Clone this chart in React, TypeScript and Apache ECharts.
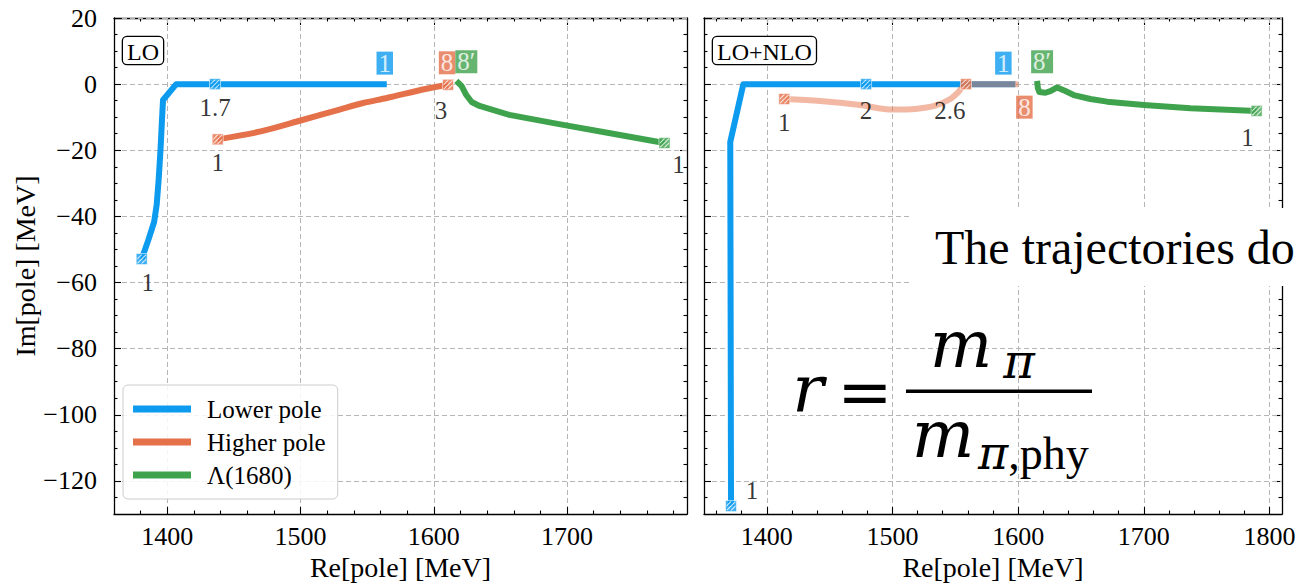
import React, { useEffect, useRef } from "react";
import * as echarts from "echarts";

const SERIF = '"Liberation Serif", "Times New Roman", Times, serif';
const MATH = '"DejaVu Serif", serif';
const BLUE = "#0c9bef";
const ORANGE = "#e5714a";
const GREEN = "#3fa34d";

// axes
const X_RANGE_LO = [1360, 1790];
const X_RANGE_NLO = [1350, 1810];
const Y_RANGE = [-130, 20];
const X_TICKS_LO = [1400, 1500, 1600, 1700];
const X_TICKS_NLO = [1400, 1500, 1600, 1700, 1800];
const Y_TICKS = [-120, -100, -80, -60, -40, -20, 0, 20];
const X_MINOR_STEP = 20;
const Y_MINOR_STEP = 5;
const SERIES_NAMES = ["Lower pole", "Higher pole", "Λ(1680)"];

// LO panel trajectories [Re, Im]
const loLower = [[1380.8, -52.9], [1385.8, -47.1], [1390.1, -41.7], [1392.0, -36.6], [1393.5, -29.0], [1394.9, -19.9], [1396.0, -10.9], [1396.8, -4.8], [1406.7, 0], [1435.8, 0], [1564.7, 0]];
const loHigher = [[1437.8, -16.7], [1470.1, -14.3], [1500, -11.0], [1529.9, -7.6], [1547, -5.7], [1564.7, -4.2], [1594.6, -1.4], [1610.7, -0.2]];
const loLambda = [[1616.9, 1.0], [1620.9, -0.6], [1624.4, -3.3], [1626.1, -4.2], [1628.4, -5.4], [1634.3, -6.6], [1656.7, -9.3], [1694, -12.1], [1731.3, -14.8], [1773.1, -17.8]];

// LO+NLO panel trajectories
const nloLower = [[1371.5, -127.6], [1371.2, -70], [1370.9, -17.5], [1381.3, 0], [1479, 0], [1597.8, 0]];
const nloHigher = [[1413.9, -4.5], [1442.4, -5.1], [1474.3, -6.3], [1499.8, -7.7], [1518.1, -7.5], [1534.0, -6.5], [1546.0, -4.5], [1552.4, -2.4], [1558.5, 0], [1600.2, 0]];
const nloLambda = [[1615.1, 1.0], [1615.7, -1.2], [1616.9, -2.4], [1621.7, -2.6], [1625.7, -2.1], [1631, -1.0], [1637.6, -2.1], [1644.2, -3.3], [1657.5, -4.5], [1670.8, -5.3], [1700, -6.3], [1737.2, -7.3], [1789.8, -8.1]];

// r-value markers: [Re, Im, r, seriesIndex]
const loMarks = [[1380.8, -52.9, "1", 0], [1435.8, 0, "1.7", 0], [1437.8, -16.7, "1", 1], [1610.7, -0.2, "3", 1], [1773.1, -17.8, "1", 2]];
const nloMarks = [[1371.5, -127.6, "1", 0], [1479, 0, "2", 0], [1413.9, -4.5, "1", 1], [1558.5, 0, "2.6", 1], [1789.8, -8.1, "1", 2]];
// badges at trajectory ends: [Re, Im, text, seriesIndex]
const loBadges = [[1564.7, 0, "1", 0], [1610.7, -0.2, "8", 1], [1616.9, 1.0, "8′", 2]];
const nloBadges = [[1597.8, 0, "1", 0], [1600.2, 0, "8", 1], [1615.1, 1.0, "8′", 2]];

// styles / layout
const COLORS = [BLUE, ORANGE, GREEN];
const GRID_LO = { left: 114, top: 18, width: 573, height: 496 };
const GRID_NLO = { left: 704, top: 18, width: 578, height: 496 };
const LO_MARK_OFFSETS = [[6, 23], [0, 23], [0, 23], [-7, 26], [14, 22]];
const NLO_MARK_OFFSETS = [[21, -16], [0, 26], [0, 23], [-16, 26], [-9, 27]];
const LO_BADGE_OFFSETS = [[-2, -21], [-1, -22], [10, -19]];
const NLO_BADGE_OFFSETS = [[-12, -21], [6, 23], [5, -19]];
const HATCH = "path://M0,9.2L9.2,0L10,0L10,0.8L0.8,10L0,10Z M0,4.2L4.2,0L5.8,0L0,5.8Z M4.2,10L10,4.2L10,5.8L5.8,10Z";

function makeAxes(dim: "x" | "y", gridIndex: number, range: number[], major: number[], step: number, withLabels: boolean, name?: string) {
  const minor: number[] = [];
  for (let v = Math.ceil(range[0] / step) * step; v <= range[1]; v += step) {
    if (!major.includes(v) && v > range[0] && v < range[1]) minor.push(v);
  }
  const pos = dim === "x" ? ["bottom", "top"] : ["left", "right"];
  const base: any = { type: "value", gridIndex, min: range[0], max: range[1], splitNumber: dim === "x" ? 5 : 7 };
  const line = { show: true, onZero: false, lineStyle: { color: "#000", width: 1.3 } };
  const noLine = { show: false, onZero: false };
  const tickStyle = { color: "#000", width: 1.1 };
  const majorTick = { show: true, inside: true, length: 7, customValues: major, lineStyle: tickStyle };
  const minorTick = { show: true, inside: true, length: 3.5, customValues: minor, lineStyle: tickStyle };
  const off = { show: false };
  const label: any = {
    show: withLabels,
    customValues: major,
    color: "#000",
    fontFamily: SERIF,
    fontSize: 26,
    margin: dim === "x" ? 9 : 17,
    formatter: (v: number) => String(v).replace("-", "\u2212"),
  };
  const main: any = {
    ...base,
    position: pos[0],
    axisLine: line,
    axisTick: majorTick,
    axisLabel: label,
    splitLine: { show: true, lineStyle: { color: "#b5b5b5", type: [5, 3], width: 1 } },
    z: 1,
  };
  if (name) {
    main.name = name;
    main.nameLocation = "middle";
    main.nameGap = dim === "x" ? 33 : 70;
    main.nameTextStyle = { color: "#000", fontFamily: SERIF, fontSize: 28 };
  }
  return [
    main,
    { ...base, position: pos[0], axisLine: noLine, axisTick: minorTick, axisLabel: off, splitLine: off },
    { ...base, position: pos[1], axisLine: line, axisTick: majorTick, axisLabel: off, splitLine: off },
    { ...base, position: pos[1], axisLine: noLine, axisTick: minorTick, axisLabel: off, splitLine: off },
  ];
}

function panelSeries(axisIndex: number, lines: number[][][], marks: any[], markOffsets: number[][], badges: any[], badgeOffsets: number[][], higherOpacity: number) {
  const ax = { xAxisIndex: axisIndex, yAxisIndex: axisIndex };
  const out: any[] = [];
  [0, 1, 2].forEach((i) => {
    out.push({
      ...ax,
      type: "line",
      name: SERIES_NAMES[i],
      data: lines[i],
      color: COLORS[i],
      symbol: "none",
      smooth: i === 1 ? 0.3 : false,
      lineStyle: { color: COLORS[i], width: 6, opacity: i === 1 ? higherOpacity : 1, cap: "butt", join: "round" },
      z: 3 + i,
      silent: true,
    });
  });
  out.push({
    ...ax,
    type: "scatter",
    name: "markers",
    symbol: "rect",
    symbolSize: 11,
    z: 10,
    silent: true,
    data: marks.map((m, k) => ({
      value: [m[0], m[1]],
      itemStyle: { color: COLORS[m[3]], borderColor: "rgba(255,255,255,0.7)", borderWidth: 1 },
      label: {
        show: true,
        position: "inside",
        offset: markOffsets[k],
        formatter: String(m[2]),
        color: "#000",
        fontFamily: SERIF,
        fontSize: 25,
      },
    })),
  });
  out.push({
    ...ax,
    type: "scatter",
    name: "hatch",
    symbol: HATCH,
    symbolSize: 9,
    z: 11,
    silent: true,
    itemStyle: { color: "#ffffff" },
    data: marks.map((m) => [m[0], m[1]]),
  });
  out.push({
    ...ax,
    type: "scatter",
    name: "badges",
    symbol: "circle",
    symbolSize: 1,
    z: 12,
    silent: true,
    itemStyle: { color: "transparent" },
    data: badges.map((b, k) => ({
      value: [b[0], b[1]],
      label: {
        show: true,
        position: "inside",
        offset: badgeOffsets[k],
        formatter: String(b[2]),
        color: "#fff",
        fontFamily: SERIF,
        fontSize: 25,
        lineHeight: 22,
        backgroundColor: COLORS[b[3]],
        padding: [1, 2, 0, 2],
      },
    })),
  });
  return out;
}

export default function App() {
  const ref = useRef<HTMLDivElement>(null);
  useEffect(() => {
    if (!ref.current) return;
    const chart = echarts.init(ref.current, undefined, { renderer: "svg" });
    const xAxes = [
      ...makeAxes("x", 0, X_RANGE_LO, X_TICKS_LO, X_MINOR_STEP, true, "Re[pole] [MeV]"),
      ...makeAxes("x", 1, X_RANGE_NLO, X_TICKS_NLO, X_MINOR_STEP, true, "Re[pole] [MeV]"),
    ];
    const yAxes = [
      ...makeAxes("y", 0, Y_RANGE, Y_TICKS, Y_MINOR_STEP, true, "Im[pole] [MeV]"),
      ...makeAxes("y", 1, Y_RANGE, Y_TICKS, Y_MINOR_STEP, false),
    ];
    const series = [
      ...panelSeries(0, [loLower, loHigher, loLambda], loMarks, LO_MARK_OFFSETS, loBadges, LO_BADGE_OFFSETS, 1),
      ...panelSeries(4, [nloLower, nloHigher, nloLambda], nloMarks, NLO_MARK_OFFSETS, nloBadges, NLO_BADGE_OFFSETS, 0.5),
    ];
    const boxText = (x: number, text: string) => ({
      type: "text",
      x,
      y: 37,
      z: 50,
      style: {
        text,
        font: `24px ${SERIF}`,
        fill: "#000",
        backgroundColor: "#fff",
        borderColor: "#000",
        borderWidth: 1.3,
        borderRadius: 4,
        padding: [3, 4, 0, 4],
        align: "left",
        verticalAlign: "top",
      },
    });
    chart.setOption({
      animation: false,
      backgroundColor: "#fff",
      grid: [
        { ...GRID_LO, outerBoundsMode: "none" },
        { ...GRID_NLO, outerBoundsMode: "none" },
      ],
      xAxis: xAxes,
      yAxis: yAxes,
      legend: {
        left: 123,
        top: 385,
        orient: "vertical",
        data: SERIES_NAMES.map((n, i) => ({ name: n, icon: "rect", itemStyle: { color: COLORS[i] } })),
        itemWidth: 58,
        itemHeight: 7,
        itemGap: 5,
        padding: [10, 12, 10, 10],
        backgroundColor: "rgba(255,255,255,0.85)",
        borderColor: "#cccccc",
        borderWidth: 1,
        borderRadius: 5,
        textStyle: { color: "#000", fontFamily: SERIF, fontSize: 25, lineHeight: 28, padding: [0, 0, 0, 11] },
        selectedMode: false,
      },
      graphic: [
        boxText(123, "LO"),
        boxText(713, "LO+NLO"),
        { type: "rect", z: 100, shape: { x: 912, y: 208, width: 400, height: 78 }, style: { fill: "#fff" } },
        {
          type: "text",
          z: 101,
          x: 935,
          y: 247,
          style: { text: "The trajectories do", font: `48px ${SERIF}`, fill: "#000", align: "left", verticalAlign: "middle" },
        },
        { type: "text", z: 101, x: 808, y: 389, style: { text: "r", font: `italic 66px ${MATH}`, fill: "#000", align: "center", verticalAlign: "middle" } },
        { type: "text", z: 101, x: 865, y: 391, style: { text: "=", font: `66px ${MATH}`, fill: "#000", align: "center", verticalAlign: "middle" } },
        { type: "rect", z: 101, shape: { x: 906, y: 389.5, width: 186, height: 3.5 }, style: { fill: "#000" } },
        { type: "text", z: 101, x: 961, y: 344, style: { text: "m", font: `italic 66px ${MATH}`, fill: "#000", align: "center", verticalAlign: "middle" } },
        { type: "text", z: 101, x: 1019, y: 361, style: { text: "π", font: `italic 48px ${MATH}`, fill: "#000", align: "center", verticalAlign: "middle" } },
        { type: "text", z: 101, x: 943, y: 434, style: { text: "m", font: `italic 66px ${MATH}`, fill: "#000", align: "center", verticalAlign: "middle" } },
        {
          type: "text",
          z: 101,
          x: 978,
          y: 453,
          style: {
            text: "{i|π}{u|,phy}",
            align: "left",
            verticalAlign: "middle",
            fill: "#000",
            rich: {
              i: { font: `italic 46px ${MATH}`, fill: "#000" },
              u: { font: `46px ${SERIF}`, fill: "#000" },
            },
          },
        },
      ],
      series,
    });
    return () => chart.dispose();
  }, []);
  return <div ref={ref} style={{ position: "fixed", left: 0, top: 0, width: 1301, height: 583 }} />;
}
